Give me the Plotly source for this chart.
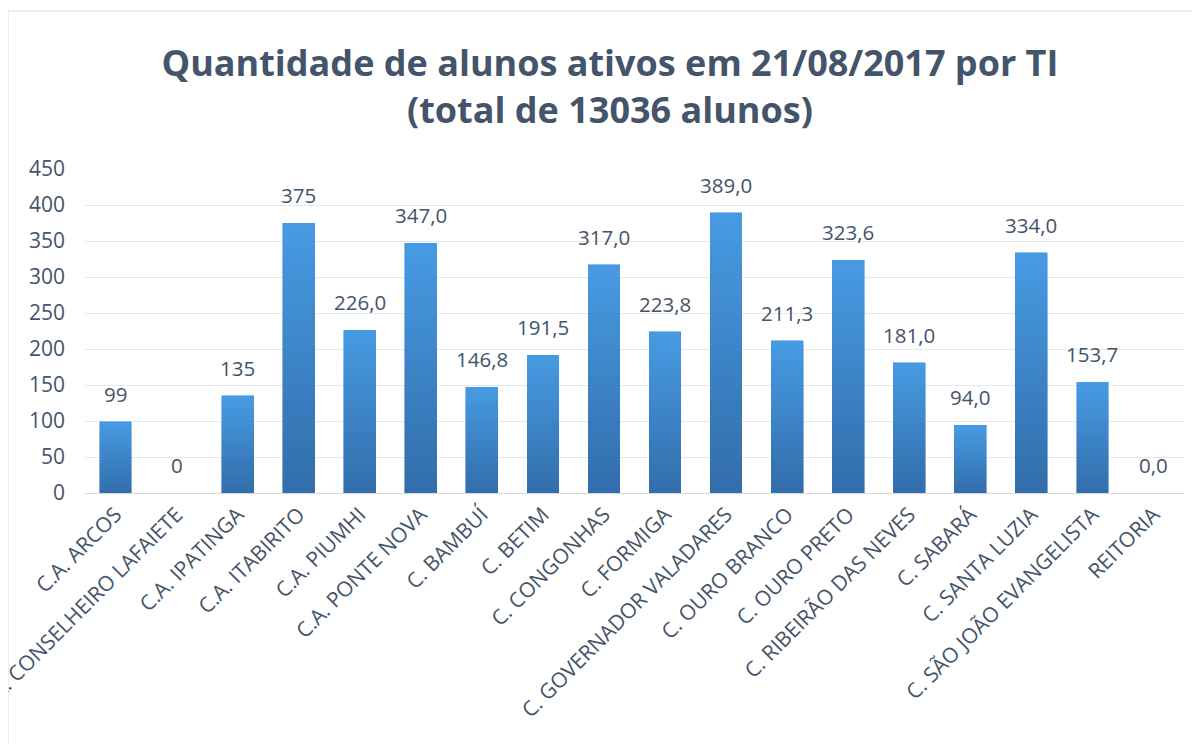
import plotly.graph_objects as go

categories = ["C.A. ARCOS", "C.A. CONSELHEIRO LAFAIETE", "C.A. IPATINGA", "C.A. ITABIRITO",
              "C.A. PIUMHI", "C.A. PONTE NOVA", "C. BAMBUÍ", "C. BETIM", "C. CONGONHAS",
              "C. FORMIGA", "C. GOVERNADOR VALADARES", "C. OURO BRANCO", "C. OURO PRETO",
              "C. RIBEIRÃO DAS NEVES", "C. SABARÁ", "C. SANTA LUZIA",
              "C. SÃO JOÃO EVANGELISTA", "REITORIA"]
values = [99, 0, 135, 375, 226.0, 347.0, 146.8, 191.5, 317.0, 223.8, 389.0, 211.3,
          323.6, 181.0, 94.0, 334.0, 153.7, 0.0]
labels = ["99", "0", "135", "375", "226,0", "347,0", "146,8", "191,5", "317,0", "223,8",
          "389,0", "211,3", "323,6", "181,0", "94,0", "334,0", "153,7", "0,0"]
y_ticks = [0, 50, 100, 150, 200, 250, 300, 350, 400, 450]

TXT = "#44546A"
FONT = "Open Sans"
top_rgb = (0x47, 0x9A, 0xE2)
bot_rgb = (0x32, 0x6E, 0xAB)
N = 24

fig = go.Figure()
for k in range(N):
    t = k / (N - 1)
    c = tuple(round(bot_rgb[i] + (top_rgb[i] - bot_rgb[i]) * t) for i in range(3))
    fig.add_trace(go.Bar(
        x=categories, y=[v / N for v in values],
        marker=dict(color="rgb(%d,%d,%d)" % c, line=dict(width=0.6, color="rgb(%d,%d,%d)" % c)),
        showlegend=False, hoverinfo="skip",
    ))

for cat, v, lab in zip(categories, values, labels):
    fig.add_annotation(x=cat, y=v, text=lab, showarrow=False, yanchor="bottom",
                       yshift=12, font=dict(family=FONT, size=20.5, color=TXT))

# white mask left of the chart border (reference clips the first label there)
fig.add_shape(type="rect", xref="paper", yref="paper", x0=-0.2, x1=-0.0701, y0=-1.5, y1=1.6,
              line=dict(width=0), fillcolor="white", layer="above")
fig.add_shape(type="rect", xref="paper", yref="paper", x0=-0.0701, x1=1.3, y0=-1.5, y1=1.4877,
              line=dict(color="#D9DDE3", width=1), layer="above")

fig.update_layout(
    width=1192, height=736,
    barmode="stack", bargap=0.48,
    paper_bgcolor="white", plot_bgcolor="white",
    margin=dict(l=77, r=16, t=161, b=251),
    title=dict(text="Quantidade de alunos ativos em 21/08/2017 por TI<br>(total de 13036 alunos)",
               x=0.505, xanchor="center", xref="container", yref="container",
               y=0.9076, yanchor="middle",
               font=dict(family=FONT, size=36, color=TXT, weight="bold")),
    font=dict(family=FONT, color=TXT),
)
fig.update_xaxes(tickangle=-45, tickfont=dict(family=FONT, size=21, color=TXT),
                 showline=True, linecolor="#D9D9D9", linewidth=1, ticks="", automargin=False)
fig.update_yaxes(range=[0, 450], tickvals=y_ticks, showgrid=True, gridcolor="#E4E7EB",
                 gridwidth=1, zeroline=False, ticks="", ticklabelstandoff=19, automargin=False,
                 tickfont=dict(family=FONT, size=21, color=TXT))

fig.write_html("out.html")
